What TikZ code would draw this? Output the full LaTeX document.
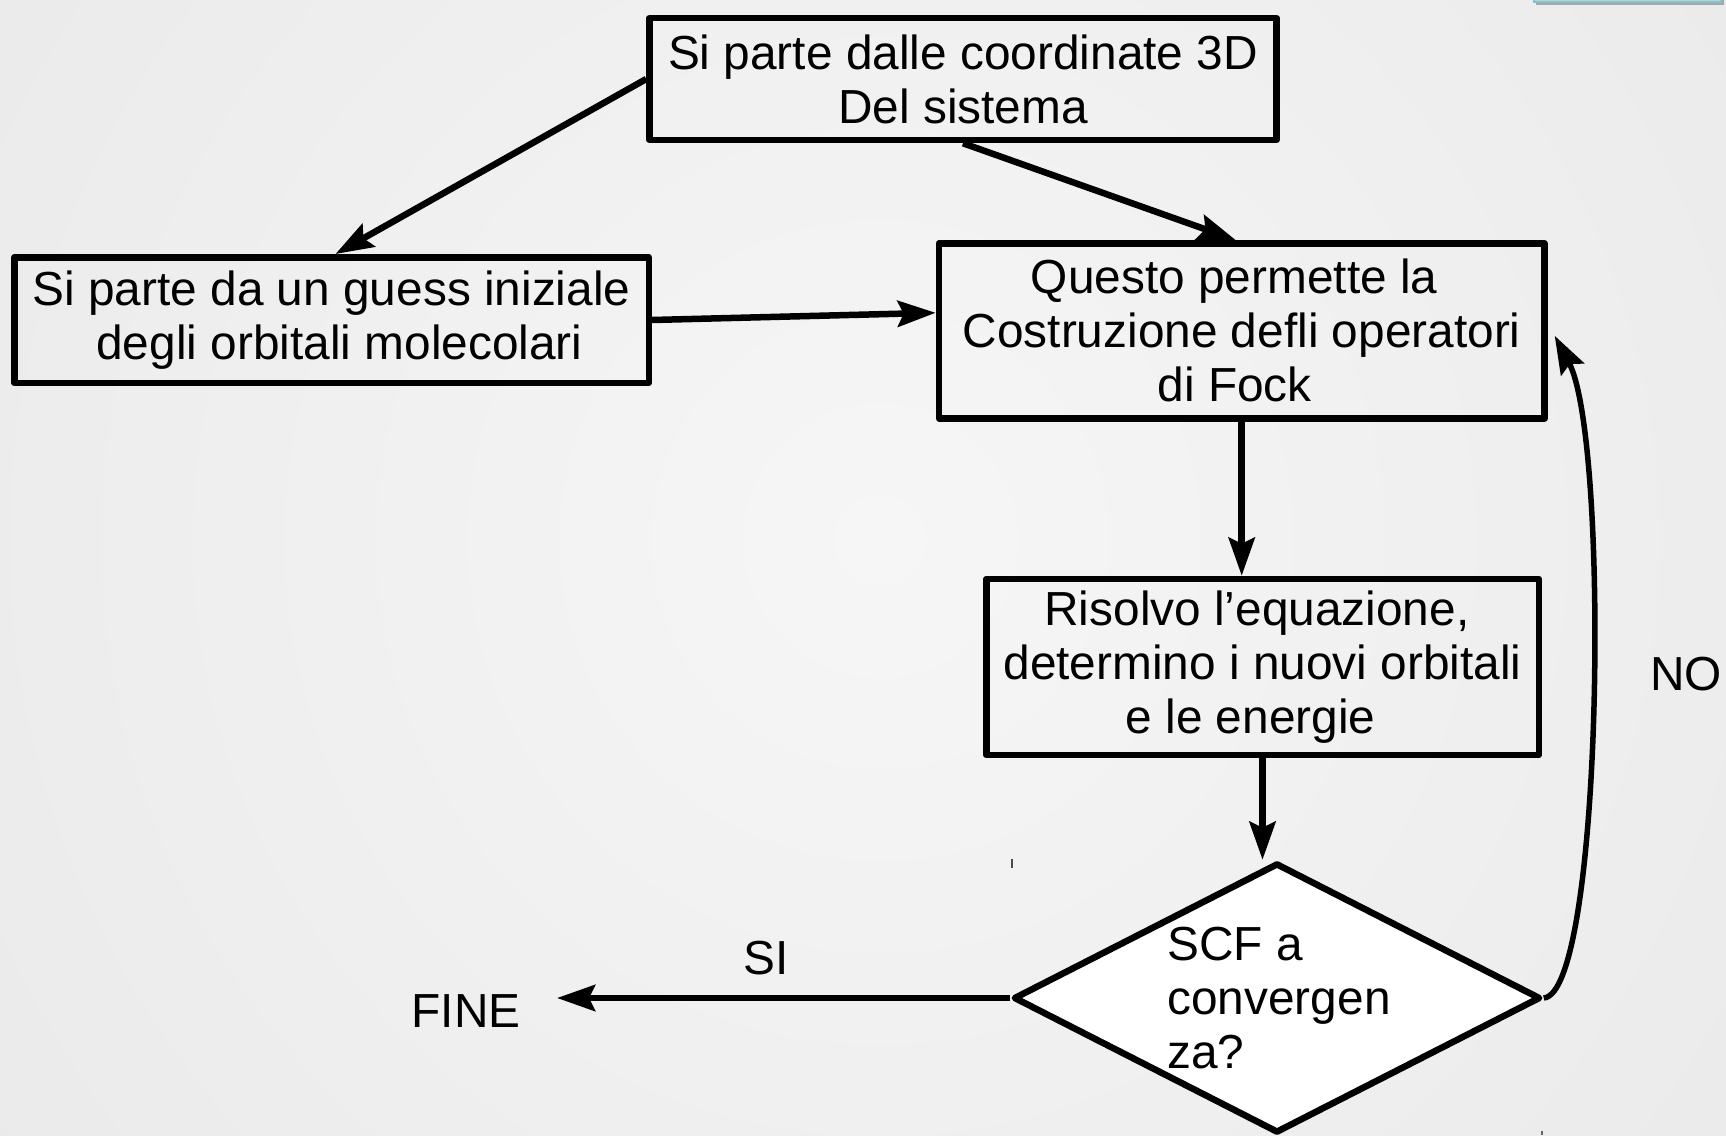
\documentclass[tikz,border=0pt]{standalone}
\usepackage{fontspec}
\setmainfont{Liberation Sans}
\usetikzlibrary{arrows.meta,shapes.geometric}
\newcommand\fsz{\fontsize{47.8pt}{54pt}\selectfont}
\definecolor{bgin}{RGB}{246,246,246}
\definecolor{bgout}{RGB}{222,222,222}
\definecolor{tabcyan}{RGB}{120,200,210}
\pgfdeclareradialshading{bgshade}{\pgfpoint{0bp}{0bp}}{color(0bp)=(bgin); color(50bp)=(bgout)}
\tikzset{
  box/.style={draw=black, line width=6.5pt, line join=round, rectangle, align=center, font=\fsz, inner sep=0pt},
  tip/.style={-{Stealth[length=38pt,width=26pt,inset=6pt]}},
  conn/.style={line width=6.5pt, tip},
  lbl/.style={font=\fsz, inner sep=0pt}
}
\begin{document}
\begin{tikzpicture}[x=1pt,y=-1pt]
\useasboundingbox (0,0) rectangle (1726,1135);
\begin{scope}
  \clip (0,0) rectangle (1726,1135);
  \shade[shading=bgshade] (880,540) circle (1100);
  % partial tab in top-right corner
  \fill[black!35] (1536,-20) rectangle (1724,5);
  \fill[black!20] (1535,-20) rectangle (1722,3);
  \draw[tabcyan, line width=2pt] (1534,-20) rectangle (1721,1.5);
\end{scope}

\node[box, minimum width=627pt, minimum height=122pt] (b1) at (963,79)
  {Si parte dalle coordinate 3D\\Del sistema};
\node[box, minimum width=634.5pt, minimum height=125.5pt] (b2) at (331.5,320)
  {Si parte da un guess iniziale\\\hspace*{16pt}degli orbitali molecolari};
\node[box, minimum width=605.5pt, minimum height=175pt] (b3) at (1241.7,330.8)
  {Questo permette la\hspace*{15pt}\\Costruzione defli operatori\hspace*{15pt}\\di Fock\hspace*{14pt}};
\node[box, minimum width=552.5pt, minimum height=176pt] (b4) at (1262.5,667)
  {Risolvo l’equazione,\hspace*{11pt}\\determino i nuovi orbitali\\e le energie\hspace*{24pt}};
\node[diamond, draw=black, fill=white, line width=6.5pt, line join=round, inner sep=0pt,
      minimum width=527pt, minimum height=270pt] (dia) at (1277,998) {};
\node[lbl, align=left] (dtext) at (1279,998) {SCF a\\convergen\\za?};

\node[lbl] (si) at (766,958) {SI};
\node[lbl] (no) at (1686,674) {NO};
\node[lbl] (fine) at (466,1011) {FINE};
\coordinate (finetip) at (557,998);

\draw[conn] (b1.west) -- ([xshift=4pt]b2.north);
\draw[conn] (b1.south) -- ([xshift=-6pt]b3.north);
\draw[conn] (b2.east) -- ([yshift=18pt]b3.west);
\draw[conn] (b3.south) -- (b3.south |- b4.north);
\draw[conn] (b4.south) -- (b4.south |- dia.north);
\draw[conn] (dia.west) -- (finetip);
\draw[line width=5.5pt, tip]
  (dia.east) .. controls (1603,993) and (1610,440) .. ([xshift=7pt,yshift=-5pt]b3.east);

% small stray marks
\draw[black!70, line width=1.5pt] (1012,859) -- (1012,868);
\draw[black!60, line width=1.5pt] (1542,1131) -- (1542,1135);
\end{tikzpicture}
\end{document}
